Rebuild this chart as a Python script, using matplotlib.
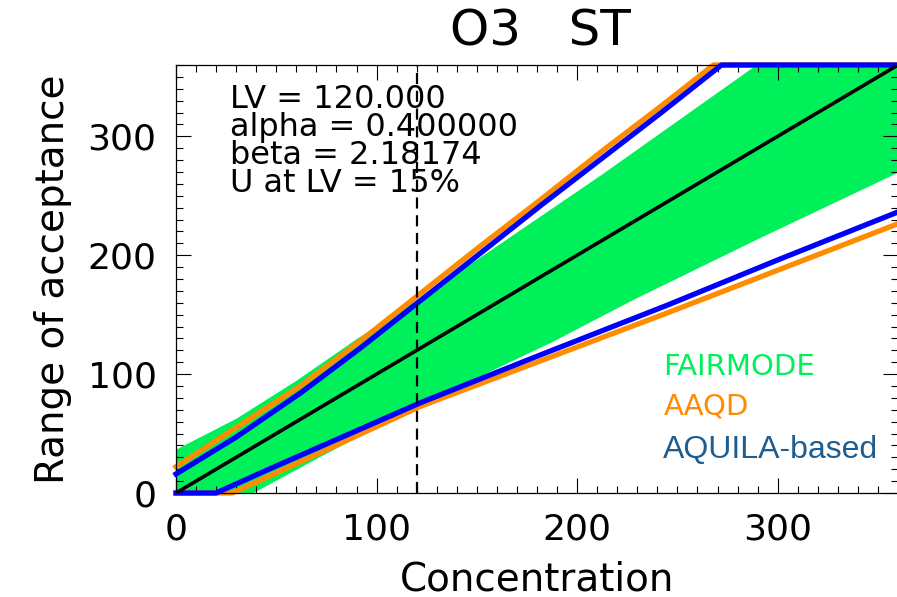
import numpy as np
import matplotlib
matplotlib.use("Agg")
import matplotlib.pyplot as plt
from matplotlib.ticker import MultipleLocator

# valeurs (concentration -> bornes)
LV = 120.0
alpha_txt = "0.400000"
beta_txt = "2.18174"
u_txt = "15%"

one_x = [0, 360]
one_y = [0, 360]

# FAIRMODE (zone verte)
fm_up_x = [0, 30, 60, 90, 122, 152, 212, 289, 360]
fm_up_y = [37, 63, 95, 130, 165, 199, 268, 360, 360]
fm_lo_x = [0, 38, 72, 122, 187, 228, 290, 360]
fm_lo_y = [0, 0, 31, 75, 127, 163, 214, 270]

# AAQD (orange)
aaqd_up_x = [0, 30, 62, 92, 122, 152, 182, 212, 240, 268, 360]
aaqd_up_y = [22, 55, 90, 128, 168, 208, 247, 287, 323, 360, 360]
aaqd_lo_x = [0, 28, 72, 122, 245, 360]
aaqd_lo_y = [0, 0, 34, 73, 151.5, 226.5]

# AQUILA-based (bleu)
aq_up_x = [0, 30, 62, 92, 122, 152, 182, 212, 242, 272, 360]
aq_up_y = [16, 47, 84, 122, 162, 202, 242, 281, 320, 360, 360]
aq_lo_x = [0, 20, 45, 72, 122, 180, 245, 300, 360]
aq_lo_y = [0, 0, 19, 39, 76, 115, 158, 196, 236.4]

legend_names = ["FAIRMODE", "AAQD", "AQUILA-based"]
legend_colors = ["#00f05a", "#ff8c00", "#1d5d90"]

GREEN = "#00f05a"
ORANGE = "#ff8c00"
BLUE = "#0000ff"

plt.rcParams['font.family'] = ['DejaVu Sans']

fig = plt.figure(figsize=(8.97, 5.97), dpi=100)
ax = fig.add_axes([176/897, 104/597, 722/897, 428/597])

# zone verte: interpolation sur une grille commune
xx = np.linspace(0, 360, 721)
up = np.interp(xx, fm_up_x, fm_up_y)
lo = np.interp(xx, fm_lo_x, fm_lo_y)
ax.fill_between(xx, lo, up, color=GREEN, lw=0, zorder=1)

ax.plot(aaqd_up_x, aaqd_up_y, color=ORANGE, lw=3.8, zorder=2, clip_on=False)
ax.plot(aaqd_lo_x, aaqd_lo_y, color=ORANGE, lw=3.8, zorder=2, clip_on=False)
ax.plot(aq_up_x, aq_up_y, color=BLUE, lw=3.8, zorder=3, clip_on=False)
ax.plot(aq_lo_x, aq_lo_y, color=BLUE, lw=3.8, zorder=3, clip_on=False)
ax.plot(one_x, one_y, color="black", lw=2.6, zorder=4)
ax.axvline(LV, color="black", lw=1.6, ls=(0, (5, 3)), zorder=5)

ax.set_xlim(0, 360)
ax.set_ylim(0, 360)
ax.xaxis.set_major_locator(MultipleLocator(100))
ax.yaxis.set_major_locator(MultipleLocator(100))
ax.xaxis.set_minor_locator(MultipleLocator(10))
ax.yaxis.set_minor_locator(MultipleLocator(10))
ax.tick_params(which='both', direction='in', top=True, right=True, width=0.8)
ax.tick_params(which='major', length=11, labelsize=26, pad=14)
ax.tick_params(which='minor', length=5)
for s in ax.spines.values():
    s.set_linewidth(0.9)

ax.set_xlabel("Concentration", fontsize=28, labelpad=10)
ax.set_ylabel("Range of acceptance", fontsize=28, labelpad=11)

fig.text(540/897, 1 - 31/597, "O3   ST", ha='center', va='center', fontsize=36)

# bloc de texte en un seul objet (lignes serrées comme l'original)
info = ["LV = %.3f" % LV, "alpha = " + alpha_txt, "beta = " + beta_txt, "U at LV = " + u_txt]
ax.text(27, 344, "\n".join(info), fontsize=23, va='top', ha='left',
        linespacing=0.87, zorder=6)

leg_y = [105.7, 72.7, 36.4]
leg_size = [21, 21, 23]
for name, c, y, fs in zip(legend_names, legend_colors, leg_y, leg_size):
    fam = ['Liberation Sans', 'DejaVu Sans'] if name == "AQUILA-based" else ['DejaVu Sans']
    ax.text(243, y, name, color=c, fontsize=fs, va='center', ha='left', family=fam, zorder=6)

fig.savefig("out.png", dpi=100)
